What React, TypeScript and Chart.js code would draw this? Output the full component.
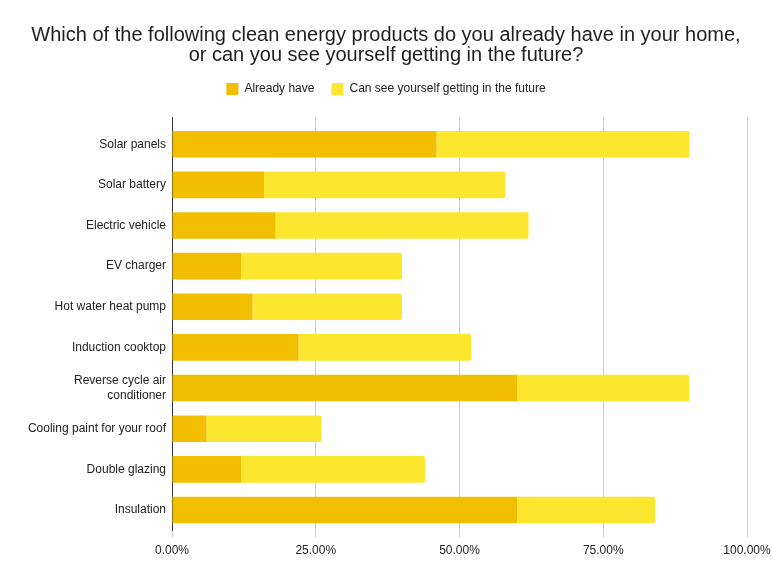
import React, { useEffect, useRef } from "react";
import { Chart, registerables } from "chart.js";

Chart.register(...registerables);

const categories: (string | string[])[] = [
  "Solar panels",
  "Solar battery",
  "Electric vehicle",
  "EV charger",
  "Hot water heat pump",
  "Induction cooktop",
  ["Reverse cycle air", "conditioner"],
  "Cooling paint for your roof",
  "Double glazing",
  "Insulation",
];

const alreadyHave = [46, 16, 18, 12, 14, 22, 60, 6, 12, 60];
const futureInterest = [44, 42, 44, 28, 26, 30, 30, 20, 32, 24];

const xTicks = [0, 25, 50, 75, 100];

const titleLines = [
  "Which of the following clean energy products do you already have in your home,",
  "or can you see yourself getting in the future?",
];

const FONT = "Arial, 'Liberation Sans', sans-serif";

// one row per category, placed on a numeric index axis
const toPoints = (values: number[]) => values.map((v, i) => ({ x: v, y: i }));

export default function App() {
  const ref = useRef<HTMLCanvasElement | null>(null);

  useEffect(() => {
    document.body.style.margin = "0";
    if (!ref.current) return;
    const chart = new Chart(ref.current, {
      type: "bar",
      data: {
        datasets: [
          {
            label: "Already have",
            data: toPoints(alreadyHave),
            backgroundColor: "#f1bf00",
            borderWidth: 0,
            barPercentage: 0.655,
            categoryPercentage: 1,
          },
          {
            label: "Can see yourself getting in the future",
            data: toPoints(futureInterest),
            backgroundColor: "#fde62e",
            borderWidth: 0,
            borderSkipped: false,
            borderRadius: { topLeft: 0, bottomLeft: 0, topRight: 2, bottomRight: 2 },
            barPercentage: 0.655,
            categoryPercentage: 1,
          },
        ],
      },
      options: {
        indexAxis: "y",
        responsive: false,
        animation: false,
        layout: { padding: { left: 22, right: 22, top: 0, bottom: 15.3 } },
        plugins: {
          title: {
            display: true,
            text: titleLines,
            color: "#1f1f1f",
            font: { family: FONT, size: 20, weight: "normal", lineHeight: 1.0 },
            padding: { top: 25, bottom: 1 },
          },
          legend: {
            position: "top",
            labels: {
              color: "#222222",
              font: { family: FONT, size: 12 },
              boxWidth: 12,
              boxHeight: 12,
              padding: 17,
            },
          },
          tooltip: { enabled: false },
        },
        scales: {
          x: {
            stacked: true,
            min: 0,
            max: 100,
            afterBuildTicks: (s: any) => {
              s.ticks = xTicks.map((v) => ({ value: v }));
            },
            afterFit: (s: any) => {
              s.paddingLeft = 0;
              s.paddingRight = 25;
            },
            ticks: {
              color: "#222222",
              font: { family: FONT, size: 12 },
              padding: 6,
              callback: (v: any) => Number(v).toFixed(2) + "%",
            },
            grid: { color: "#cccccc", tickLength: 7, drawTicks: true },
            border: { display: false },
          },
          // empty strip between the legend and the plot
          xTop: {
            type: "linear",
            position: "top",
            display: true,
            ticks: { display: false },
            grid: { display: false, drawTicks: false },
            border: { display: false },
            afterFit: (s: any) => {
              s.height = 12;
            },
          },
          y: {
            type: "linear",
            stacked: true,
            reverse: true,
            offset: false,
            min: -0.67,
            max: 9.5,
            afterBuildTicks: (s: any) => {
              s.ticks = categories.map((_, i) => ({ value: i }));
            },
            afterFit: (s: any) => {
              s.width = 150;
            },
            ticks: {
              autoSkip: false,
              color: "#222222",
              font: { family: FONT, size: 12 },
              padding: 6,
              callback: (v: any) => categories[Number(v)],
            },
            grid: { display: false, drawTicks: false, offset: false },
            border: { display: true, color: "#333333", width: 1 },
          },
        },
      },
    });
    return () => chart.destroy();
  }, []);

  return (
    <div style={{ width: 772, height: 579, background: "#ffffff" }}>
      <canvas ref={ref} width={772} height={579} />
    </div>
  );
}
